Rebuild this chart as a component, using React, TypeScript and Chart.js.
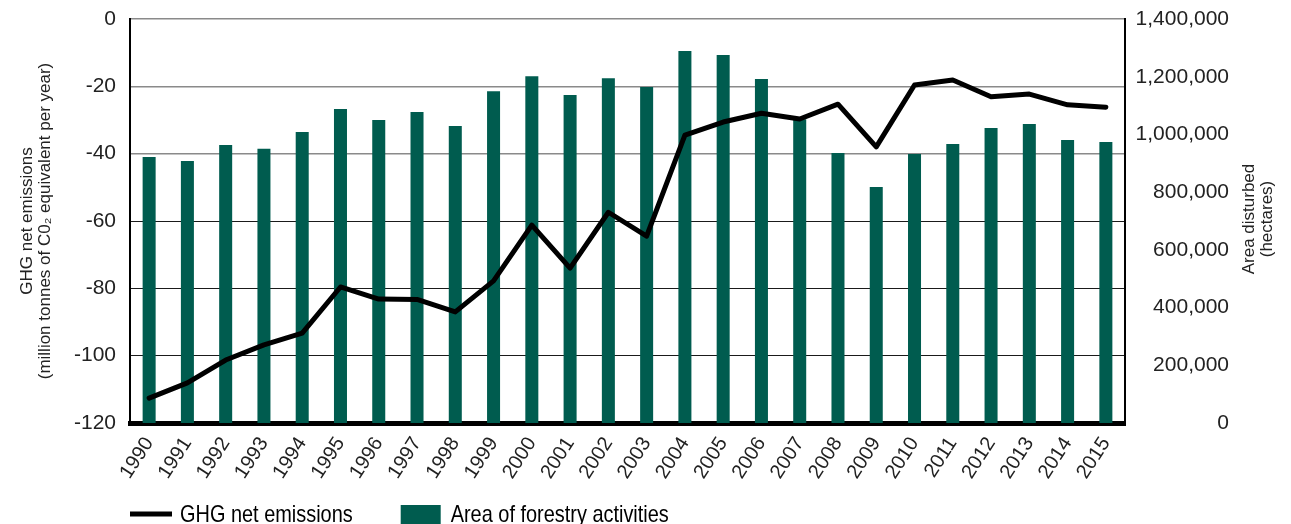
import React, { useEffect, useRef } from 'react';
import { Chart, registerables } from 'chart.js';

Chart.register(...registerables);

const years = [
  '1990', '1991', '1992', '1993', '1994', '1995', '1996', '1997', '1998', '1999',
  '2000', '2001', '2002', '2003', '2004', '2005', '2006', '2007', '2008', '2009',
  '2010', '2011', '2012', '2013', '2014', '2015',
];

const ghgNetEmissions = [
  -112.6, -108.1, -101.3, -96.8, -93.3, -79.6, -83.2, -83.3, -87.0, -77.8,
  -61.2, -74.0, -57.4, -64.5, -34.5, -30.6, -28.0, -29.7, -25.3, -38.0,
  -19.6, -18.1, -23.1, -22.3, -25.5, -26.2,
];

const areaForestry = [
  922000, 908000, 963000, 950000, 1008000, 1088000, 1050000, 1078000, 1029000, 1150000,
  1202000, 1137000, 1195000, 1164000, 1289000, 1275000, 1192000, 1053000, 936000, 818000,
  932000, 967000, 1022000, 1036000, 981000, 974000,
];

const leftTitle = ['GHG net emissions', '(million tonnes of C0\u2082 equivalent per year)'];
const rightTitle = ['Area disturbed', '(hectares)'];
const seriesNames = ['GHG net emissions', 'Area of forestry activities'];

const FONT = "'Liberation Sans', Arial, Helvetica, sans-serif";
const BAR_COLOR = '#005c4f';
const TEXT = '#222222';

const overlayPlugin = {
  id: 'overlay',
  afterDraw(chart: any) {
    const { ctx, chartArea } = chart;
    ctx.save();
    // right axis title (reads bottom to top)
    const cy = (chartArea.top + chartArea.bottom) / 2 - 2;
    ctx.font = `17px ${FONT}`;
    ctx.fillStyle = TEXT;
    ctx.textAlign = 'center';
    ctx.textBaseline = 'middle';
    rightTitle.forEach((t, i) => {
      ctx.save();
      ctx.translate(chartArea.right + 124 + i * 18, cy);
      ctx.rotate(-Math.PI / 2);
      ctx.fillText(t, 0, 0);
      ctx.restore();
    });

    // legend (condensed text)
    const ds = chart.data.datasets;
    const x0 = chartArea.left;
    const y = 514;
    const squeeze = 0.83;
    ctx.font = `24px ${FONT}`;
    ctx.textAlign = 'left';
    ctx.textBaseline = 'middle';
    const drawText = (t: string, x: number) => {
      ctx.save();
      ctx.translate(x, y + 1);
      ctx.scale(squeeze, 1);
      ctx.fillStyle = '#000';
      ctx.fillText(t, 0, 0);
      ctx.restore();
      return ctx.measureText(t).width * squeeze;
    };
    // line item
    ctx.strokeStyle = ds[0].borderColor;
    ctx.lineWidth = 5;
    ctx.lineCap = 'butt';
    ctx.beginPath();
    ctx.moveTo(x0, y);
    ctx.lineTo(x0 + 42, y);
    ctx.stroke();
    const tx1 = x0 + 50;
    const w1 = drawText(ds[0].label, tx1);
    // bar item
    const bx = tx1 + w1 + 48;
    ctx.fillStyle = ds[1].backgroundColor;
    ctx.fillRect(bx, 505, 40, 22);
    drawText(ds[1].label, bx + 50);
    ctx.restore();
  },
};

export default function App() {
  const ref = useRef<HTMLCanvasElement | null>(null);

  useEffect(() => {
    document.body.style.margin = '0';
    const canvas = ref.current;
    if (!canvas) return;
    const chart = new Chart(canvas, {
      type: 'bar',
      data: {
        labels: years,
        datasets: [
          {
            type: 'line',
            label: seriesNames[0],
            data: ghgNetEmissions,
            yAxisID: 'y',
            borderColor: '#000000',
            backgroundColor: '#000000',
            borderWidth: 5,
            pointRadius: 0,
            tension: 0,
            borderJoinStyle: 'round',
            borderCapStyle: 'round',
            order: 0,
          } as any,
          {
            type: 'bar',
            label: seriesNames[1],
            data: areaForestry,
            yAxisID: 'y1',
            backgroundColor: BAR_COLOR,
            borderWidth: 0,
            barPercentage: 0.34,
            categoryPercentage: 1,
            order: 1,
          } as any,
        ],
      },
      options: {
        responsive: false,
        animation: false,
        devicePixelRatio: 1,
        events: [],
        layout: { padding: { top: 19, left: 0, right: 62, bottom: 0 } },
        plugins: {
          legend: { display: false },
          tooltip: { enabled: false },
          title: { display: false },
        },
        scales: {
          x: {
            type: 'category',
            grid: { display: false, drawTicks: false },
            border: { display: true, color: '#000', width: 5 },
            ticks: {
              autoSkip: false,
              minRotation: 57,
              maxRotation: 57,
              padding: 10,
              color: TEXT,
              font: { family: FONT, size: 20 },
            },
            afterFit: (s: any) => {
              s.height = 101;
              s.paddingLeft = 0;
              s.paddingRight = 0;
            },
          },
          y: {
            type: 'linear',
            position: 'left',
            min: -120,
            max: 0,
            ticks: {
              stepSize: 20,
              padding: 14,
              color: TEXT,
              font: { family: FONT, size: 21 },
            },
            grid: {
              drawTicks: false,
              color: (c: any) => (c.tick && c.tick.value >= -40 ? '#8a8a8a' : '#1a1a1a'),
              lineWidth: (c: any) => (c.tick && c.tick.value >= -40 ? 1.5 : 1),
            },
            border: { display: true, color: '#000', width: 2 },
            title: {
              display: true,
              text: leftTitle,
              color: TEXT,
              font: { family: FONT, size: 17, lineHeight: 1.06 },
              padding: { top: 18, bottom: 0 },
            },
            afterFit: (s: any) => {
              s.width = 130;
              s.paddingTop = 0;
              s.paddingBottom = 0;
            },
          },
          y1: {
            type: 'linear',
            position: 'right',
            min: 0,
            max: 1400000,
            ticks: {
              stepSize: 200000,
              padding: 8,
              crossAlign: 'far',
              color: TEXT,
              font: { family: FONT, size: 21 },
              callback: (v: any) => Number(v).toLocaleString('en-US'),
            },
            grid: { display: false, drawTicks: false },
            border: { display: true, color: '#000', width: 2 },
            afterFit: (s: any) => {
              s.width = 104;
              s.paddingTop = 0;
              s.paddingBottom = 0;
            },
          },
        },
      } as any,
      plugins: [overlayPlugin],
    });
    return () => chart.destroy();
  }, []);

  return (
    <div style={{ width: 1291, height: 524, position: 'relative', background: '#fff' }}>
      <canvas ref={ref} width={1291} height={524} style={{ display: 'block' }} />
    </div>
  );
}
